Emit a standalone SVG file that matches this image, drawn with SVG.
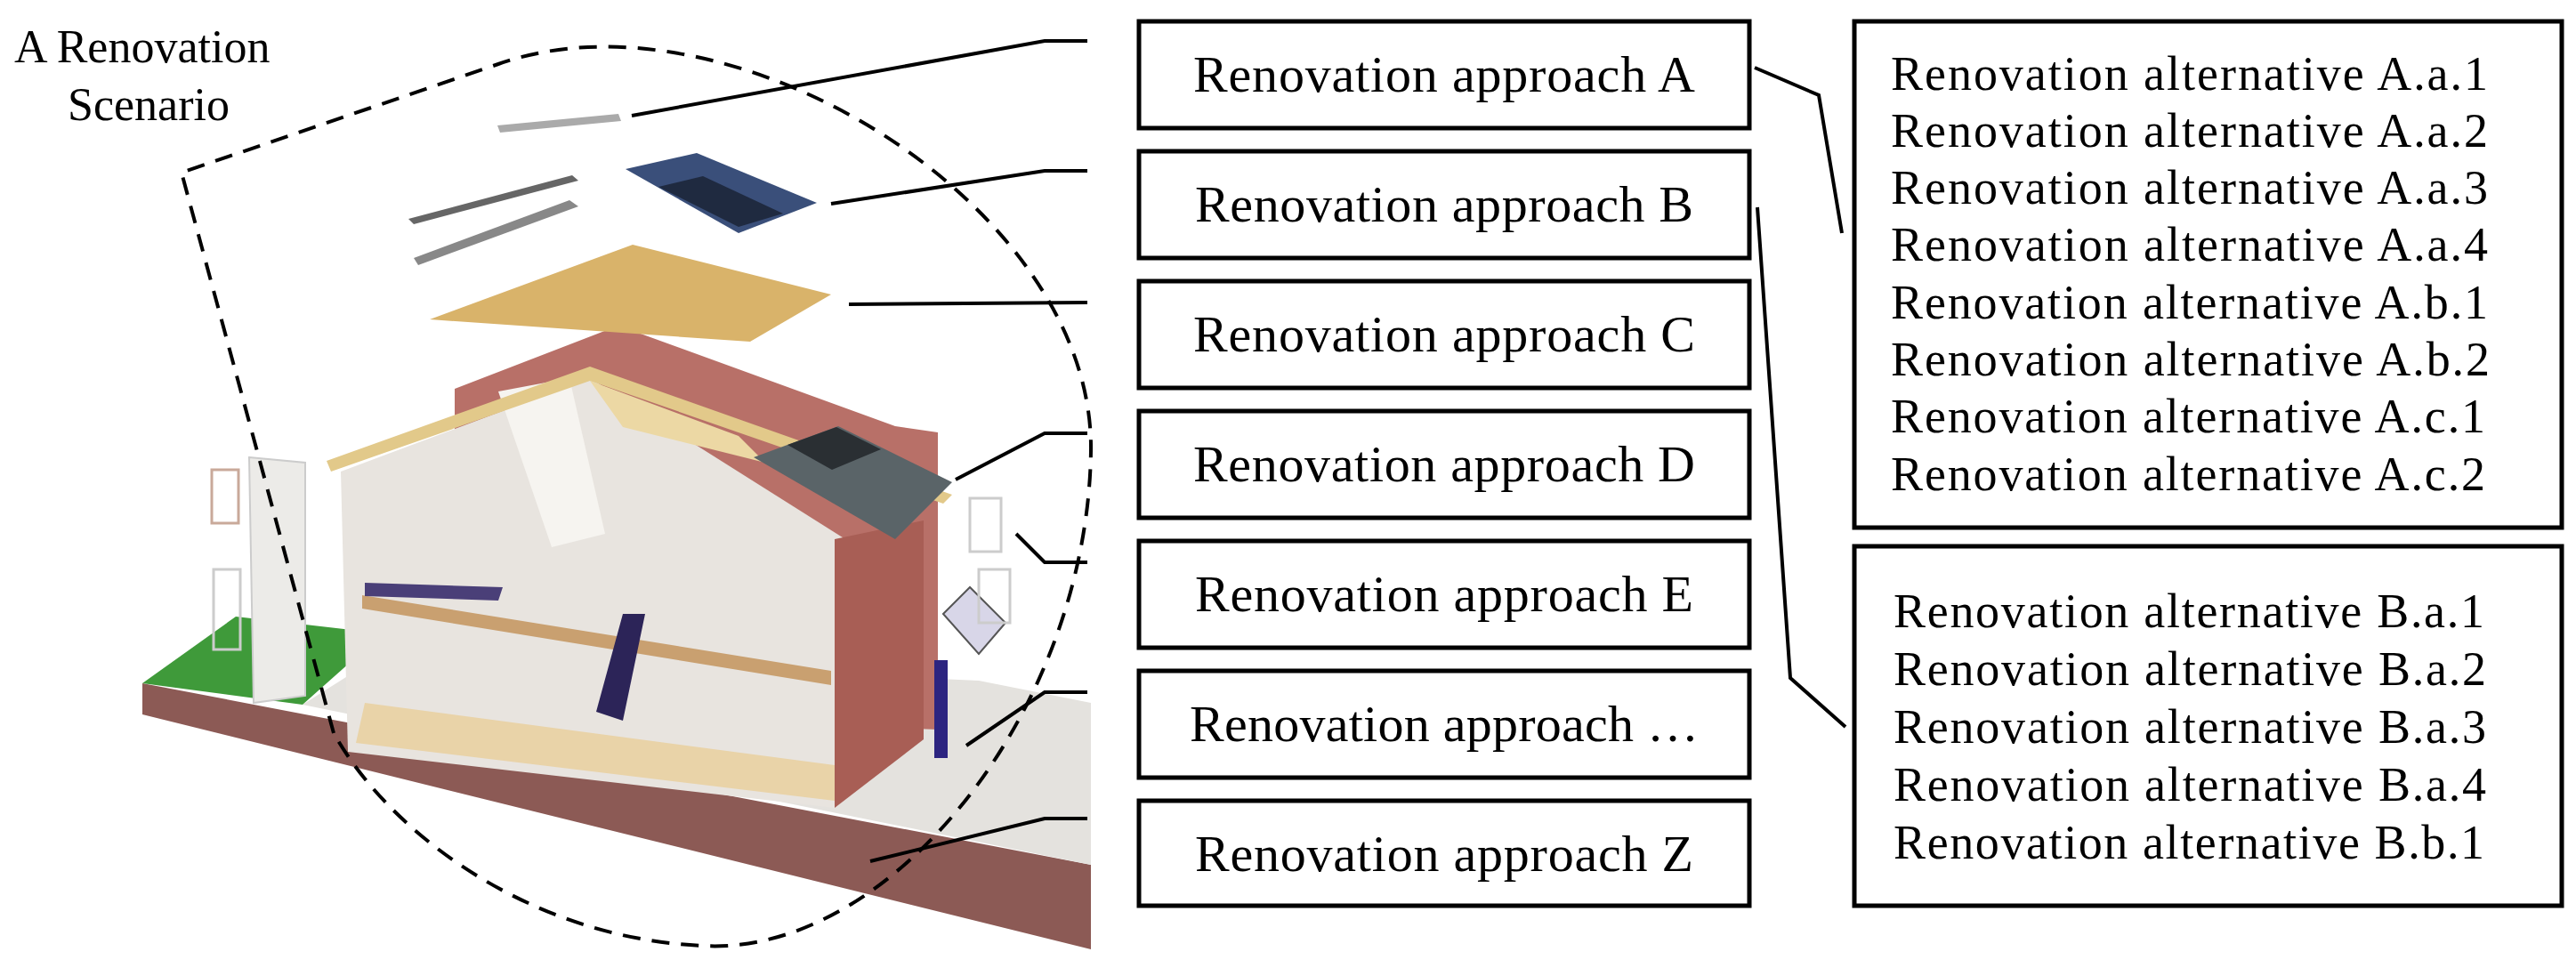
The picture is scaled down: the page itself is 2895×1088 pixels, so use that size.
<svg xmlns="http://www.w3.org/2000/svg" width="2895" height="1088" viewBox="0 0 2895 1088">
<style>
.box{fill:#fff;stroke:#000;stroke-width:5}
.t{font-family:"Liberation Serif",serif;fill:#000}
.ap{font-size:58px;text-anchor:middle}
.al{font-size:54px}
.con{fill:none;stroke:#000;stroke-width:4}
</style>
<rect width="2895" height="1088" fill="#fff"/>
<g id="illustration">
<polygon points="160,768 160,803 1226,1067 1226,972" fill="#8c5a55"/>
<polygon points="340,792 1226,972 1226,790 1100,765 430,735" fill="#e4e2de"/>
<polygon points="160,768 265,693 430,712 340,792" fill="#3f9a3a"/>
<rect x="238" y="528" width="30" height="60" fill="none" stroke="#c9a99a" stroke-width="3"/>
<rect x="240" y="640" width="30" height="90" fill="none" stroke="#ccc" stroke-width="3"/>
<polygon points="280,514 343,520 343,782 285,790" fill="#ecebe8" stroke="#ccc" stroke-width="2"/>
<polygon points="511,437 695,366 1006,479 1054,486 1054,820 511,800" fill="#b87068"/>
<polygon points="391,845 383,530 663,425 950,606 938,908" fill="#e8e4df"/>
<polygon points="560,440 640,425 680,600 620,615" fill="#f6f4f0"/>
<polygon points="407,669 934,754 934,770 407,684" fill="#c9a070"/>
<polygon points="410,655 565,660 560,675 410,670" fill="#4a3f78"/>
<polygon points="400,835 938,900 938,860 410,790" fill="#e9d3a8"/>
<polygon points="670,800 700,690 725,690 700,810" fill="#2c2458"/>
<polygon points="938,606 1038,585 1038,831 938,908" fill="#a85e55"/>
<polygon points="663,428 830,490 860,520 700,480" fill="#ecd8a4"/>
<polygon points="367,518 663,412 1070,556 1060,566 663,428 372,530" fill="#e2c98a"/>
<polygon points="847,514 942,479 1070,542 1006,606" fill="#5a6468"/>
<polygon points="885,500 940,480 990,505 935,528" fill="#2a2f33"/>
<polygon points="483,359 711,275 934,331 843,384" fill="#d9b36a"/>
<polygon points="459,246 643,197 650,203 465,252" fill="#666"/>
<polygon points="465,290 640,225 650,232 470,298" fill="#888"/>
<polygon points="703,190 783,172 918,228 830,262" fill="#3a4f7a"/>
<polygon points="740,210 790,198 880,240 830,255" fill="#1f2a40"/>
<polygon points="559,141 695,128 698,136 562,149" fill="#aaa"/>
<polygon points="1060,690 1090,660 1130,700 1100,735" fill="#d8d6e8" stroke="#555" stroke-width="2"/>
<rect x="1050" y="742" width="15" height="110" fill="#2c2480"/>
<rect x="1090" y="560" width="35" height="60" fill="none" stroke="#ccc" stroke-width="3"/>
<rect x="1100" y="640" width="35" height="60" fill="none" stroke="#ccc" stroke-width="3"/>
</g>
<g id="scenario">
<path d="M375,824 L204,194 L560,72 C820,-20 1230,230 1226,507 C1222,800 1000,1075 790,1063 C600,1055 440,940 375,824" fill="none" stroke="#000" stroke-width="4" stroke-dasharray="20 13"/>
<text class="t" x="16" y="70" font-size="52">A Renovation</text>
<text class="t" x="76" y="135" font-size="52">Scenario</text>
</g>
<g id="connectors">
<polyline class="con" points="710,130 1174,46 1222,46"/>
<polyline class="con" points="934,229 1174,192 1222,192"/>
<polyline class="con" points="954,342 1222,340"/>
<polyline class="con" points="1074,539 1174,487 1222,487"/>
<polyline class="con" points="1142,600 1174,632 1222,632"/>
<polyline class="con" points="1086,838 1174,778 1222,778"/>
<polyline class="con" points="978,968 1174,920 1222,920"/>
<polyline class="con" points="1972,76 2044,107 2070,262"/>
<polyline class="con" points="1975,233 2012,762 2074,817"/>
</g>
<g id="approachA"><rect class="box" x="1280" y="24" width="686" height="120"/><text class="t ap" x="1623" y="103" textLength="564">Renovation approach A</text></g>
<g id="approachB"><rect class="box" x="1280" y="170" width="686" height="120"/><text class="t ap" x="1623" y="249" textLength="560">Renovation approach B</text></g>
<g id="approachC"><rect class="box" x="1280" y="316" width="686" height="120"/><text class="t ap" x="1623" y="395" textLength="564">Renovation approach C</text></g>
<g id="approachD"><rect class="box" x="1280" y="462" width="686" height="120"/><text class="t ap" x="1623" y="541" textLength="564">Renovation approach D</text></g>
<g id="approachE"><rect class="box" x="1280" y="608" width="686" height="120"/><text class="t ap" x="1623" y="687" textLength="560">Renovation approach E</text></g>
<g id="approachEtc"><rect class="box" x="1280" y="754" width="686" height="120"/><text class="t ap" x="1623" y="833" textLength="572">Renovation approach …</text></g>
<g id="approachZ"><rect class="box" x="1280" y="900" width="686" height="118"/><text class="t ap" x="1623" y="979" textLength="560">Renovation approach Z</text></g>
<g id="alternativesA">
<rect class="box" x="2084" y="24" width="795" height="569"/>
<text class="t al" x="2125" y="101" textLength="671">Renovation alternative A.a.1</text>
<text class="t al" x="2125" y="165" textLength="671">Renovation alternative A.a.2</text>
<text class="t al" x="2125" y="229" textLength="671">Renovation alternative A.a.3</text>
<text class="t al" x="2125" y="293" textLength="671">Renovation alternative A.a.4</text>
<text class="t al" x="2125" y="358" textLength="671">Renovation alternative A.b.1</text>
<text class="t al" x="2125" y="422" textLength="673">Renovation alternative A.b.2</text>
<text class="t al" x="2125" y="486" textLength="668">Renovation alternative A.c.1</text>
<text class="t al" x="2125" y="551" textLength="668">Renovation alternative A.c.2</text>
</g>
<g id="alternativesB">
<rect class="box" x="2084" y="614" width="795" height="404"/>
<text class="t al" x="2128" y="705" textLength="664">Renovation alternative B.a.1</text>
<text class="t al" x="2128" y="770" textLength="666">Renovation alternative B.a.2</text>
<text class="t al" x="2128" y="835" textLength="666">Renovation alternative B.a.3</text>
<text class="t al" x="2128" y="900" textLength="666">Renovation alternative B.a.4</text>
<text class="t al" x="2128" y="965" textLength="664">Renovation alternative B.b.1</text>
</g>
</svg>
